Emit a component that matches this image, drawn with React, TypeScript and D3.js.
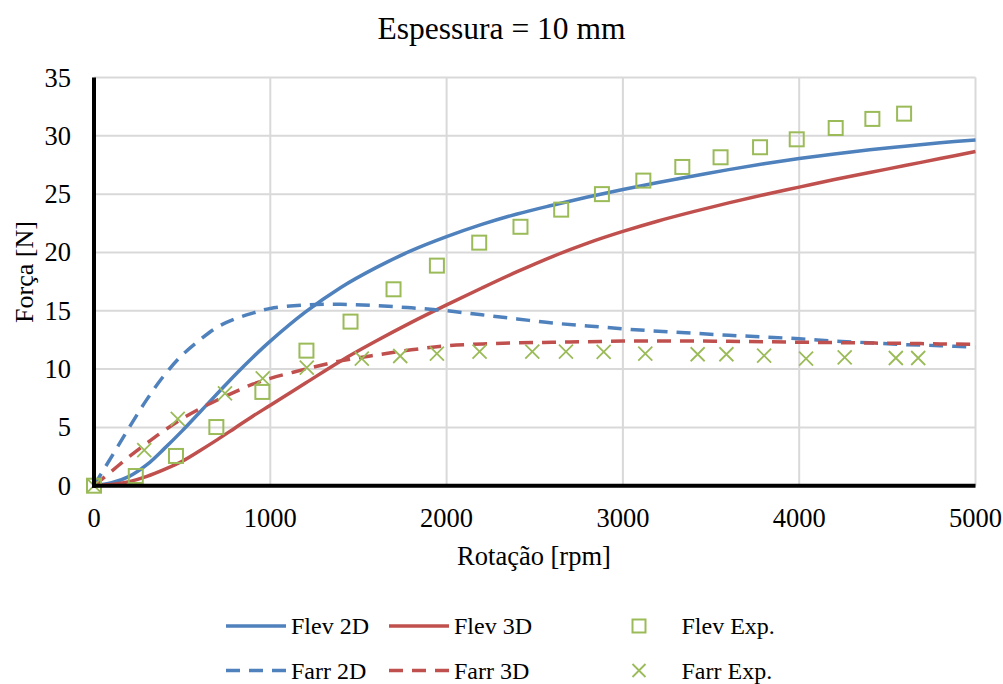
import React from "react";
import * as d3 from "d3";

const rpm = [0, 100, 200, 300, 400, 500, 600, 700, 800, 900, 1000, 1200, 1400, 1600, 1800, 2000, 2200, 2400, 2600, 2800, 3000, 3200, 3400, 3600, 3800, 4000, 4200, 4400, 4600, 4800, 5000];
const flev2D = [0, 0.25, 0.8, 1.8, 3.2, 4.7, 6.3, 7.9, 9.5, 11.0, 12.4, 14.9, 17.0, 18.7, 20.15, 21.35, 22.4, 23.3, 24.05, 24.75, 25.4, 26.0, 26.55, 27.1, 27.6, 28.05, 28.45, 28.8, 29.1, 29.4, 29.65];
const flev3D = [0, 0.1, 0.35, 0.8, 1.4, 2.1, 3.0, 3.95, 4.95, 5.95, 6.9, 8.8, 10.7, 12.4, 14.0, 15.5, 16.95, 18.35, 19.65, 20.8, 21.8, 22.7, 23.5, 24.25, 24.95, 25.6, 26.25, 26.85, 27.45, 28.05, 28.65];
const farr2D = [0, 2.5, 5.0, 7.4, 9.5, 11.2, 12.5, 13.6, 14.3, 14.8, 15.2, 15.5, 15.55, 15.45, 15.25, 15.0, 14.65, 14.3, 13.95, 13.7, 13.45, 13.25, 13.07, 12.9, 12.75, 12.6, 12.4, 12.25, 12.1, 12.0, 11.87];
const farr3D = [0, 1.25, 2.5, 3.65, 4.75, 5.75, 6.6, 7.35, 8.05, 8.7, 9.2, 10.0, 10.7, 11.2, 11.65, 12.0, 12.15, 12.25, 12.3, 12.35, 12.4, 12.4, 12.4, 12.38, 12.35, 12.3, 12.27, 12.23, 12.2, 12.16, 12.13];

const flevExpRpm = [0, 237, 465, 694, 955, 1205, 1455, 1699, 1945, 2185, 2419, 2650, 2881, 3116, 3337, 3554, 3778, 3986, 4207, 4415, 4595];
const flevExpF = [0, 0.83, 2.55, 5.03, 8.04, 11.58, 14.07, 16.84, 18.87, 20.84, 22.2, 23.67, 25.0, 26.16, 27.33, 28.16, 29.02, 29.7, 30.67, 31.45, 31.9];
const farrExpRpm = [0, 285, 475, 743, 957, 1207, 1519, 1737, 1945, 2187, 2486, 2677, 2891, 3127, 3424, 3587, 3801, 4039, 4258, 4548, 4675];
const farrExpF = [0, 3.06, 5.72, 7.92, 9.2, 10.12, 10.9, 11.12, 11.32, 11.49, 11.49, 11.49, 11.47, 11.32, 11.27, 11.27, 11.15, 10.9, 11.0, 10.95, 10.95];

const xTicks = [0, 1000, 2000, 3000, 4000, 5000];
const yTicks = [0, 5, 10, 15, 20, 25, 30, 35];

const BLUE = "#4F81BD";
const RED = "#C0504D";
const GREEN = "#9BBB59";
const TXT: React.CSSProperties = { fontFamily: "'Liberation Serif', 'DejaVu Serif', serif" };

export default function App() {
  const x = d3.scaleLinear().domain([0, 5000]).range([94, 975.5]);
  const y = d3.scaleLinear().domain([0, 35]).range([485.7, 77.5]);
  const line = (vals: number[]) =>
    d3
      .line<number>()
      .x((_, i) => x(rpm[i]))
      .y((d) => y(d))
      .curve(d3.curveCatmullRom.alpha(0.5))(vals) as string;

  const series = [
    { name: "Flev 2D", vals: flev2D, color: BLUE, dash: undefined as string | undefined },
    { name: "Flev 3D", vals: flev3D, color: RED, dash: undefined as string | undefined },
    { name: "Farr 2D", vals: farr2D, color: BLUE, dash: "14,9" },
    { name: "Farr 3D", vals: farr3D, color: RED, dash: "14,9" },
  ];

  const sq = 14;
  const xs = 7;
  const cross = (cx: number, cy: number, r: number) =>
    `M${cx - r},${cy - r}L${cx + r},${cy + r}M${cx - r},${cy + r}L${cx + r},${cy - r}`;

  return (
    <svg width={1003} height={684} style={{ position: "absolute", left: 0, top: 0, background: "#fff" }}>
      <rect x={0} y={0} width={1003} height={684} fill="#fff" />
      <text x={501.5} y={39} textAnchor="middle" fontSize={31.5} fill="#000" style={TXT}>
        Espessura = 10 mm
      </text>
      {/* grid */}
      {yTicks.map((t) => (
        <line key={"gy" + t} x1={x(0)} x2={x(5000)} y1={y(t)} y2={y(t)} stroke="#d9d9d9" strokeWidth={2} />
      ))}
      {xTicks.map((t) => (
        <line key={"gx" + t} x1={x(t)} x2={x(t)} y1={y(0)} y2={y(35)} stroke="#d9d9d9" strokeWidth={2} />
      ))}
      {/* lines */}
      {series.map((s) => (
        <path key={s.name} d={line(s.vals)} fill="none" stroke={s.color} strokeWidth={3.5} strokeDasharray={s.dash} />
      ))}
      {/* markers */}
      {flevExpRpm.map((r, i) => (
        <rect key={"fe" + i} x={x(r) - sq / 2} y={y(flevExpF[i]) - sq / 2} width={sq} height={sq} fill="none" stroke={GREEN} strokeWidth={2} />
      ))}
      {farrExpRpm.map((r, i) => (
        <path key={"fa" + i} d={cross(x(r), y(farrExpF[i]), xs)} stroke={GREEN} strokeWidth={1.8} fill="none" />
      ))}
      {/* axes */}
      <line x1={x(0)} x2={x(0)} y1={y(35)} y2={y(0) + 2} stroke="#000" strokeWidth={4} />
      <line x1={x(0) - 2} x2={x(5000)} y1={y(0)} y2={y(0)} stroke="#000" strokeWidth={4} />
      {yTicks.map((t) => (
        <text key={"ty" + t} x={71} y={y(t) + 9} textAnchor="end" fontSize={26.5} style={TXT}>
          {t}
        </text>
      ))}
      {xTicks.map((t) => (
        <text key={"tx" + t} x={x(t)} y={527} textAnchor="middle" fontSize={26.5} style={TXT}>
          {t}
        </text>
      ))}
      <text x={534} y={565} textAnchor="middle" fontSize={26.5} style={TXT}>
        Rotação [rpm]
      </text>
      <text transform="translate(33,272) rotate(-90)" textAnchor="middle" fontSize={26} style={TXT}>
        Força [N]
      </text>
      {/* legend */}
      {[
        { s: series[0], lx: 226, ly: 626 },
        { s: series[1], lx: 389, ly: 626 },
        { s: series[2], lx: 226, ly: 670.5 },
        { s: series[3], lx: 389, ly: 670.5 },
      ].map(({ s, lx, ly }) => (
        <g key={"lg" + s.name}>
          <line x1={lx} x2={lx + 60} y1={ly} y2={ly} stroke={s.color} strokeWidth={3.5} strokeDasharray={s.dash} />
          <text x={lx + 65} y={ly + 8} fontSize={24} style={TXT}>
            {s.name}
          </text>
        </g>
      ))}
      <rect x={639 - 6.5} y={626 - 6.5} width={13} height={13} fill="none" stroke={GREEN} strokeWidth={2} />
      <text x={681.5} y={634} fontSize={24} style={TXT}>
        Flev Exp.
      </text>
      <path d={cross(639, 670.5, 6.5)} stroke={GREEN} strokeWidth={1.8} fill="none" />
      <text x={681.5} y={678.5} fontSize={24} style={TXT}>
        Farr Exp.
      </text>
    </svg>
  );
}
